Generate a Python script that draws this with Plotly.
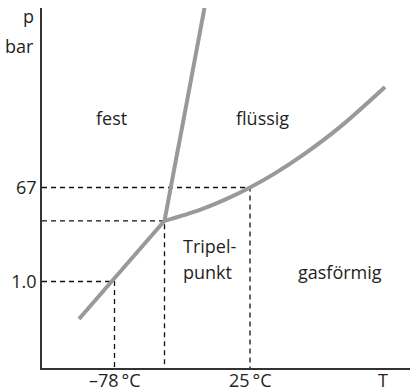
import plotly.graph_objects as go

# Schematic phase diagram of CO2 (abstract, linear plotting units)
sub_T = [37, 122.5]            # sublimation line
sub_p = [49, 147.2]
melt_T = [122.5, 162.5]        # melting line
melt_p = [147.2, 360]
vap_T = [122.5, 158, 182.5, 208, 232.5, 262.5, 297.5, 343]   # vaporisation curve
vap_p = [147.2, 158.2, 168.1, 180.5, 194.4, 214.1, 240.6, 281]

triple = (122.5, 147.2)
point_25 = (208, 180.5)
point_m78 = (72.5, 86.5)

x_tickvals = [72.5, 208, 341]
x_ticktext = ["\u201378\u2009\u00b0C", "25\u2009\u00b0C", "T"]
y_tickvals = [86.5, 180.5]
y_ticktext = ["1.0", "67"]

regions = [("fest", 69, 250), ("flüssig", 220.5, 250), ("Tripel-", 167.5, 122),
           ("punkt", 165.5, 96), ("gasförmig", 297.5, 96)]

FONT = "Open Sans"
TXT = "#231f20"
GRAY = "#999999"

fig = go.Figure()

# dashed guide lines
for (x, y) in [triple, point_25, point_m78]:
    fig.add_trace(go.Scatter(x=[0, x, x], y=[y, y, 0], mode="lines",
                             line=dict(color="#111111", width=1.3, dash="5px,4px"),
                             hoverinfo="skip", showlegend=False))

for xs, ys in [(sub_T, sub_p), (melt_T, melt_p)]:
    fig.add_trace(go.Scatter(x=xs, y=ys, mode="lines",
                             line=dict(color=GRAY, width=4), showlegend=False))
fig.add_trace(go.Scatter(x=vap_T, y=vap_p, mode="lines",
                         line=dict(color=GRAY, width=4, shape="spline"), showlegend=False))

for text, x, y in regions:
    fig.add_annotation(x=x, y=y, text=text, showarrow=False,
                       font=dict(family=FONT, size=18, color=TXT),
                       xanchor="center", yanchor="middle")

# x-axis labels placed at the tick positions
for tv, tt in zip(x_tickvals, x_ticktext):
    fig.add_annotation(x=tv, y=0, text=tt, showarrow=False,
                       xanchor="center", yanchor="top", yshift=2,
                       font=dict(family=FONT, size=18, color=TXT))

fig.add_annotation(x=0, y=352, text="p", showarrow=False, xref="x", yref="y",
                   xanchor="right", yanchor="middle", xshift=-6,
                   font=dict(family=FONT, size=18, color=TXT))
fig.add_annotation(x=0, y=322, text="bar", showarrow=False, xref="x", yref="y",
                   xanchor="right", yanchor="middle", xshift=-6,
                   font=dict(family=FONT, size=18, color=TXT))

fig.update_xaxes(range=[0, 368], showgrid=False, zeroline=False, showline=True,
                 linecolor="#333333", linewidth=1.7, ticks="", automargin=False,
                 tickvals=x_tickvals, showticklabels=False)
fig.update_yaxes(range=[0, 360], showgrid=False, zeroline=False, showline=True,
                 linecolor="#333333", linewidth=1.7, ticks="", automargin=False,
                 tickvals=y_tickvals, ticktext=y_ticktext,
                 tickfont=dict(family=FONT, size=18, color=TXT))

fig.update_layout(width=417, height=392, margin=dict(l=42, r=7, t=8, b=24),
                  plot_bgcolor="white", paper_bgcolor="white", showlegend=False)

fig.write_html("out.html", config={"displayModeBar": False},
               post_script="document.body.style.margin='0';document.body.style.overflow='hidden';")
